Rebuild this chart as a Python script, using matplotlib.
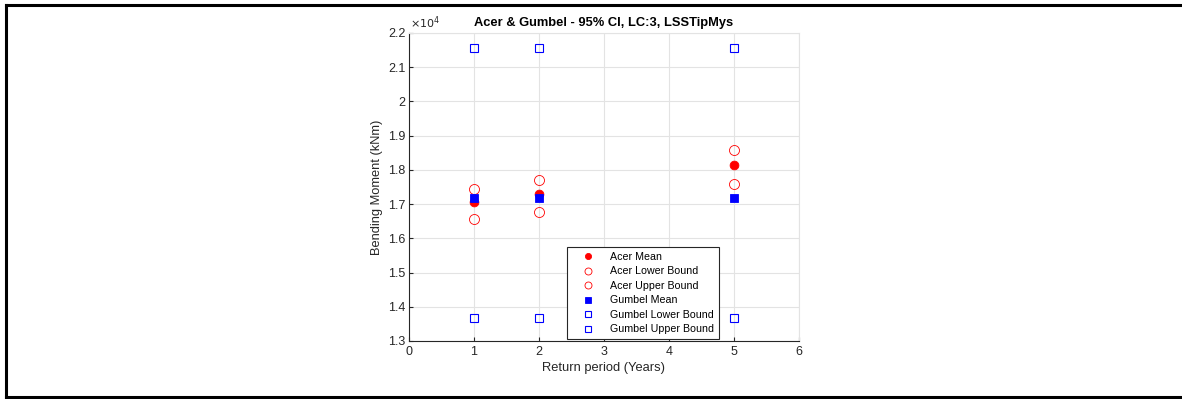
import matplotlib
matplotlib.use("Agg")
import matplotlib.pyplot as plt
from matplotlib.lines import Line2D
from matplotlib.ticker import FuncFormatter

plt.rcParams['font.family'] = ['Liberation Sans', 'DejaVu Sans']

# Return periods (years)
return_period = [1, 2, 5]

# Acer estimates of the bending moment (kNm)
acer_mean = [17060, 17300, 18150]
acer_lower = [16570, 16780, 17590]
acer_upper = [17450, 17690, 18590]

# Gumbel estimates of the bending moment (kNm)
gumbel_mean = [17170, 17170, 17170]
gumbel_lower = [13670, 13670, 13670]
gumbel_upper = [21560, 21560, 21560]

x_ticks = [0, 1, 2, 3, 4, 5, 6]
y_ticks = [13000, 14000, 15000, 16000, 17000, 18000, 19000, 20000, 21000, 22000]

W, H = 1182, 399
fig = plt.figure(figsize=(W / 100, H / 100), dpi=100)
fig.patch.set_facecolor('white')

# Frame around the figure (left, top and bottom edges)
frame_kw = dict(color='black', linewidth=2.2, transform=fig.transFigure)
fig.add_artist(Line2D([5.5 / W, 5.5 / W], [1 - 4.5 / H, 1 - 397 / H], **frame_kw))
fig.add_artist(Line2D([5.5 / W, 1.02], [1 - 4.5 / H, 1 - 4.5 / H], **frame_kw))
fig.add_artist(Line2D([5.5 / W, 1.02], [1 - 397 / H, 1 - 397 / H], **frame_kw))

ax = fig.add_axes([409 / W, (H - 341) / H, 390 / W, 308 / H])

red = '#ff0000'
blue = '#0000ff'
ax.plot(return_period, acer_mean, 'o', color=red, markersize=6.3,
        markeredgewidth=0.6, label='Acer Mean', zorder=3)
ax.plot(return_period, acer_lower, 'o', markerfacecolor='none', markeredgecolor=red,
        markersize=7.2, markeredgewidth=0.6, label='Acer Lower Bound', zorder=3)
ax.plot(return_period, acer_upper, 'o', markerfacecolor='none', markeredgecolor=red,
        markersize=7.2, markeredgewidth=0.6, label='Acer Upper Bound', zorder=3)
ax.plot(return_period, gumbel_mean, 's', color=blue, markersize=6.0,
        markeredgewidth=0.6, label='Gumbel Mean', zorder=4)
ax.plot(return_period, gumbel_lower, 's', markerfacecolor='none', markeredgecolor=blue,
        markersize=6.2, markeredgewidth=0.8, label='Gumbel Lower Bound', zorder=3)
ax.plot(return_period, gumbel_upper, 's', markerfacecolor='none', markeredgecolor=blue,
        markersize=6.2, markeredgewidth=0.8, label='Gumbel Upper Bound', zorder=3)

ax.set_xlim(0, 6)
ax.set_ylim(13000, 22000)
ax.set_xticks(x_ticks)
ax.set_yticks(y_ticks)
ax.yaxis.set_major_formatter(FuncFormatter(lambda v, p: f"{v / 1e4:g}"))

ax.grid(True, color='#e3e3e3', linewidth=0.8)
ax.set_axisbelow(True)
for s in ['top', 'right']:
    ax.spines[s].set_color('#e3e3e3')
    ax.spines[s].set_linewidth(0.8)
for s in ['left', 'bottom']:
    ax.spines[s].set_color('#262626')
    ax.spines[s].set_linewidth(0.8)
ax.tick_params(direction='in', length=3, width=0.8, colors='#262626',
               labelsize=9, labelcolor='#262626')
ax.tick_params(axis='y', pad=2.5)
ax.tick_params(axis='x', pad=3.5)

ax.text(0.003, 1.005, r'$\times10^4$', transform=ax.transAxes, fontsize=8,
        color='#262626', ha='left', va='bottom')

ax.set_title('Acer & Gumbel - 95% CI, LC:3, LSSTipMys', fontsize=9.3, fontweight='bold',
             pad=5)
ax.set_xlabel('Return period (Years)', fontsize=9.3, color='#262626', labelpad=3)
ax.set_ylabel('Bending Moment (kNm)', fontsize=9.3, color='#262626', labelpad=4)

leg = ax.legend(loc='lower left', bbox_to_anchor=(0.405, 0.006), borderaxespad=0,
                fontsize=7.7, fancybox=False, framealpha=1, edgecolor='#262626',
                markerscale=0.7, handlelength=3.0, handletextpad=0.6,
                labelspacing=0.42, borderpad=0.45)
leg.get_frame().set_linewidth(0.8)

fig.savefig('out.png', dpi=100)
